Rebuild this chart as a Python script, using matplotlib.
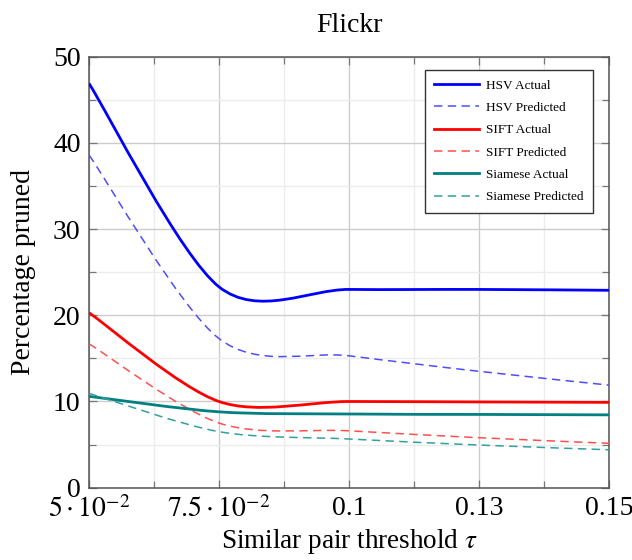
import numpy as np
import matplotlib
matplotlib.use('Agg')
import matplotlib.pyplot as plt
from matplotlib.path import Path
from matplotlib.patches import PathPatch
from matplotlib.lines import Line2D
from matplotlib.ticker import FixedLocator, MultipleLocator

plt.rcParams['font.family'] = ['Liberation Serif', 'DejaVu Serif']
plt.rcParams['mathtext.fontset'] = 'stix'

# dados
limiar = [0.05, 0.075, 0.1, 0.125, 0.15]
hsv_real = [46.9, 23.3, 23.0, 23.0, 22.9]
hsv_prev = [38.6, 17.3, 15.3, 13.5, 11.9]
sift_real = [20.3, 10.0, 10.0, 9.95, 9.9]
sift_prev = [16.7, 7.5, 6.6, 5.8, 5.15]
siam_real = [10.6, 8.8, 8.55, 8.5, 8.45]
siam_prev = [10.95, 6.5, 5.65, 4.95, 4.4]

rotulos_x = [r'$5\cdot10^{-2}$', r'$7.5\cdot10^{-2}$', '0.1', '0.13', '0.15']
series = ['HSV Actual', 'HSV Predicted', 'SIFT Actual', 'SIFT Predicted',
          'Siamese Actual', 'Siamese Predicted']


def curva_suave(ax, xs, ys, tensao=0.15, **kw):
    # curva tipo "smooth" do pgfplots (bezier pelos pontos)
    p = np.column_stack([xs, ys]).astype(float)
    n = len(p)
    verts = [p[0]]
    codes = [Path.MOVETO]
    for i in range(n - 1):
        a = p[i - 1] if i > 0 else p[i]
        d = p[i + 2] if i + 2 < n else p[i + 1]
        c1 = p[i] + tensao * (p[i + 1] - a)
        c2 = p[i + 1] - tensao * (d - p[i])
        verts += [c1, c2, p[i + 1]]
        codes += [Path.CURVE4] * 3
    patch = PathPatch(Path(verts, codes), facecolor='none', **kw)
    ax.add_patch(patch)


fig = plt.figure(figsize=(6.32, 5.6), dpi=100)
ax = fig.add_axes([0.1408, 0.1291, 0.8228, 0.7697])

tracejado = (0, (5.5, 3.5))
estilos = [
    dict(edgecolor='#0000ff', lw=2.0, linestyle='-'),
    dict(edgecolor='#4d4dff', lw=1.1, linestyle=tracejado),
    dict(edgecolor='#ff0000', lw=2.0, linestyle='-'),
    dict(edgecolor='#ff5050', lw=1.1, linestyle=tracejado),
    dict(edgecolor='#008080', lw=2.0, linestyle='-'),
    dict(edgecolor='#33a0a0', lw=1.1, linestyle=tracejado),
]
dados = [hsv_real, hsv_prev, sift_real, sift_prev, siam_real, siam_prev]

for ys, st in zip(dados, estilos):
    curva_suave(ax, limiar, ys, zorder=3, **st)

ax.set_xlim(0.05, 0.15)
ax.set_ylim(0, 50)

ax.xaxis.set_major_locator(FixedLocator(limiar))
ax.set_xticklabels(rotulos_x)
ax.xaxis.set_minor_locator(MultipleLocator(0.0125))
ax.yaxis.set_major_locator(MultipleLocator(10))
ax.yaxis.set_minor_locator(MultipleLocator(5))

ax.grid(True, which='major', color='#cccccc', lw=1.0)
ax.grid(True, which='minor', color='#ececec', lw=1.0)
ax.set_axisbelow(True)

ax.tick_params(which='both', direction='in', top=True, right=True,
               color='#777777', labelsize=20)
ax.tick_params(which='major', length=6, width=0.9)
ax.tick_params(which='minor', length=5, width=0.9)
ax.tick_params(axis='x', pad=6)
ax.tick_params(axis='y', pad=6)
for s in ax.spines.values():
    s.set_color('#555555')
    s.set_linewidth(1.1)

ax.set_xlabel(r'Similar pair threshold $\tau$', fontsize=19.5, labelpad=3)
ax.set_ylabel('Percentage pruned', fontsize=20, labelpad=12)
ax.set_title('Flickr', fontsize=20, pad=18)

handles = []
for st in estilos:
    handles.append(Line2D([], [], color=st['edgecolor'], lw=st['lw'],
                          linestyle=st['linestyle']))
leg = ax.legend(handles, series, loc='upper right', bbox_to_anchor=(0.969, 0.969),
                fontsize=9.5, frameon=True, fancybox=False, framealpha=1,
                edgecolor='#333333', handlelength=3.4, handletextpad=0.55,
                labelspacing=0.77, borderaxespad=0, borderpad=0.7)
leg.get_frame().set_linewidth(1.0)

fig.savefig('out.png', dpi=100)
